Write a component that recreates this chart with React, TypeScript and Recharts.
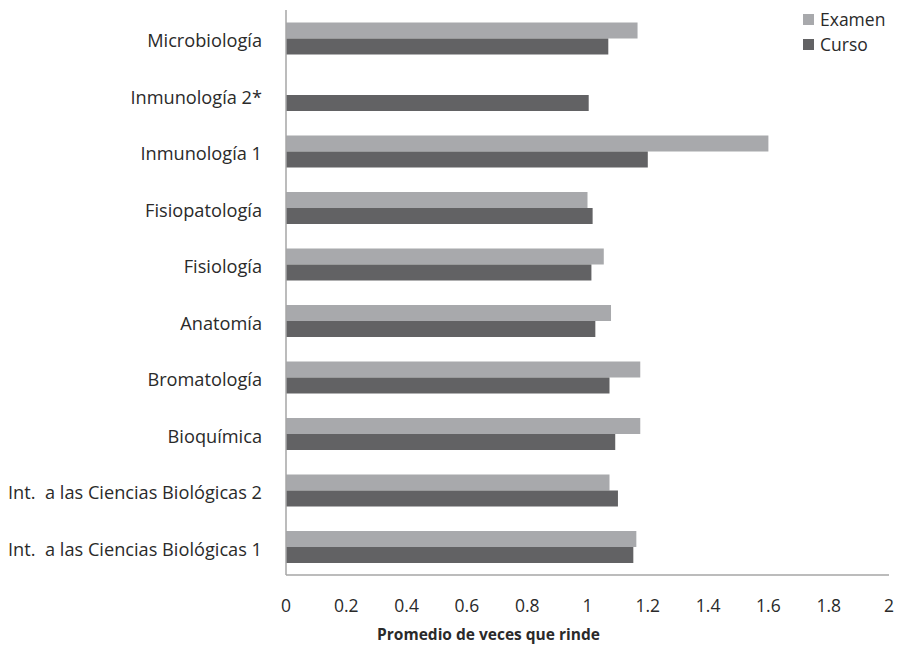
import React from 'react';
import { BarChart, Bar, XAxis, YAxis } from 'recharts';

const categories = [
  'Microbiología',
  'Inmunología 2*',
  'Inmunología 1',
  'Fisiopatología',
  'Fisiología',
  'Anatomía',
  'Bromatología',
  'Bioquímica',
  'Int.  a las Ciencias Biológicas 2',
  'Int.  a las Ciencias Biológicas 1',
];
const examen = [1.166, 0, 1.6, 1.0, 1.054, 1.078, 1.175, 1.175, 1.073, 1.162];
const curso = [1.069, 1.004, 1.2, 1.017, 1.013, 1.026, 1.073, 1.092, 1.101, 1.152];
const xTicks = [0, 0.2, 0.4, 0.6, 0.8, 1, 1.2, 1.4, 1.6, 1.8, 2];
const legendItems = ['Examen', 'Curso'];

const data = categories.map((c, i) => ({ name: c, Examen: examen[i], Curso: curso[i] }));

const FONT = '"Open Sans", sans-serif';
const C_EX = '#a8a9ac';
const C_CU = '#626264';
const AXIS = '#a6a6a6';
const TEXT = '#2a2a2a';
const colors: Record<string, string> = { Examen: C_EX, Curso: C_CU };

const CategoryTick = (props: any) => {
  const { x, y, payload } = props;
  return (
    <text
      x={x}
      y={y}
      dy={9}
      textAnchor="end"
      fill={TEXT}
      fontSize={18.2}
      fontFamily={FONT}
      xmlSpace="preserve"
      style={{ whiteSpace: 'pre' }}
    >
      {payload.value}
    </text>
  );
};

export default function App() {
  return (
    <div style={{ position: 'absolute', left: 0, top: 0, width: 901, height: 645, background: '#fff' }}>
      <BarChart
        width={901}
        height={645}
        data={data}
        layout="vertical"
        margin={{ top: 10, right: 12, bottom: 0, left: 0 }}
        barCategoryGap="22%"
        barGap={0}
      >
        <XAxis
          type="number"
          domain={[0, 2]}
          ticks={xTicks}
          tickLine={false}
          axisLine={{ stroke: AXIS, strokeWidth: 1.5 }}
          tick={{ fill: TEXT, fontSize: 17.5, fontFamily: FONT }}
          tickMargin={19}
          height={70}
          label={{
            value: 'Promedio de veces que rinde',
            position: 'insideBottom',
            offset: 5,
            dx: -99,
            style: { fill: TEXT, fontSize: 15.5, fontWeight: 700, fontFamily: FONT },
          }}
          interval={0}
        />
        <YAxis
          type="category"
          dataKey="name"
          width={286}
          tickLine={false}
          axisLine={{ stroke: AXIS, strokeWidth: 1.5 }}
          tick={<CategoryTick />}
          tickMargin={18}
          interval={0}
        />
        <Bar dataKey="Examen" fill={C_EX} isAnimationActive={false} />
        <Bar dataKey="Curso" fill={C_CU} isAnimationActive={false} />
      </BarChart>
      <div
        style={{
          position: 'absolute',
          left: 803,
          top: 7,
          fontFamily: FONT,
          fontSize: 17.5,
          color: TEXT,
          lineHeight: '25px',
        }}
      >
        {legendItems.map((label) => (
          <div key={label} style={{ display: 'flex', alignItems: 'center' }}>
            <span style={{ display: 'inline-block', width: 11, height: 11, background: colors[label], marginRight: 6 }} />
            <span>{label}</span>
          </div>
        ))}
      </div>
    </div>
  );
}
